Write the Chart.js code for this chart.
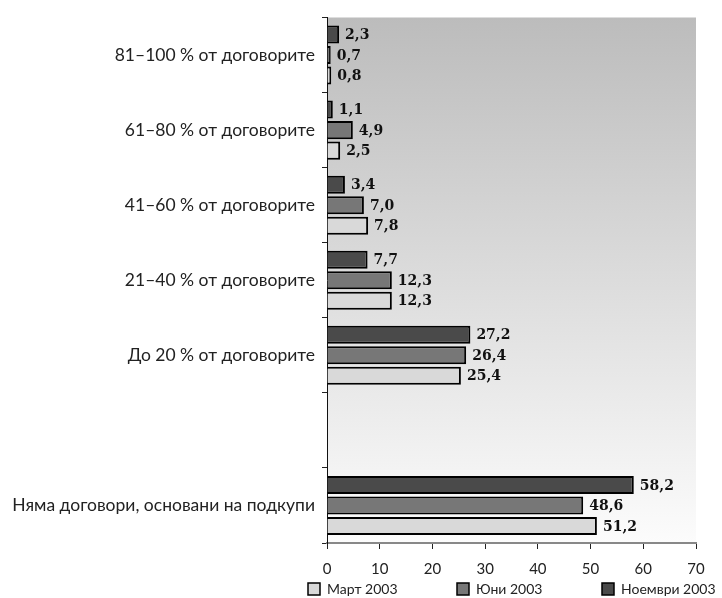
<!DOCTYPE html>
<html>
<head>
<meta charset="utf-8">
<script src="https://cdn.jsdelivr.net/npm/chart.js@4"></script>
<style>
  html, body { margin: 0; padding: 0; background: #fff; }
  #wrap { width: 722px; height: 598px; }
</style>
</head>
<body>
<div id="wrap"><canvas id="myChart"></canvas></div>
<script>
const categories = [
  '81–100 % от договорите',
  '61–80 % от договорите',
  '41–60 % от договорите',
  '21–40 % от договорите',
  'До 20 % от договорите',
  '',
  'Няма договори, основани на подкупи'
];
const mart2003 = [0.8, 2.5, 7.8, 12.3, 25.4, null, 51.2];
const yuni2003 = [0.7, 4.9, 7.0, 12.3, 26.4, null, 48.6];
const noemvri2003 = [2.3, 1.1, 3.4, 7.7, 27.2, null, 58.2];
const xTicks = [0, 10, 20, 30, 40, 50, 60, 70];

// gradient behind the plot area
const bgPlugin = {
  id: 'bg',
  beforeDraw(chart) {
    const { ctx, chartArea: a } = chart;
    const g = ctx.createLinearGradient(0, a.top, 0, a.bottom);
    g.addColorStop(0, '#bcbcbc');
    g.addColorStop(1, '#fcfcfc');
    ctx.save();
    ctx.fillStyle = g;
    ctx.fillRect(a.left, a.top, a.right - a.left, a.bottom - a.top);
    ctx.restore();
  }
};

// numbers at the end of the bars
const valuePlugin = {
  id: 'values',
  afterDatasetsDraw(chart) {
    const { ctx } = chart;
    ctx.save();
    ctx.font = 'bold 14px "DejaVu Serif"';
    ctx.fillStyle = '#111';
    ctx.textBaseline = 'middle';
    chart.data.datasets.forEach((ds, i) => {
      chart.getDatasetMeta(i).data.forEach((bar, j) => {
        const v = ds.data[j];
        if (v == null) return;
        ctx.fillText(v.toFixed(1).replace('.', ','), bar.x + 6, bar.y + 1);
      });
    });
    ctx.restore();
  }
};

// legend under the axis, Март first
const legendX = [308, 457, 602];
const legendPlugin = {
  id: 'legendBottom',
  afterDraw(chart) {
    const { ctx } = chart;
    const items = chart.data.datasets.slice().reverse();
    const y = 589;
    ctx.save();
    ctx.font = '14px Lato';
    ctx.textBaseline = 'middle';
    items.forEach((ds, i) => {
      const x = legendX[i];
      ctx.fillStyle = ds.backgroundColor;
      ctx.fillRect(x, y - 6, 12, 12);
      ctx.lineWidth = 1.5;
      ctx.strokeStyle = '#000';
      ctx.strokeRect(x, y - 6, 12, 12);
      ctx.fillStyle = '#222';
      ctx.fillText(ds.label, x + 19, y);
    });
    ctx.restore();
  }
};

new Chart(document.getElementById('myChart'), {
  type: 'bar',
  data: {
    labels: categories,
    datasets: [
      { label: 'Ноември 2003', data: noemvri2003, backgroundColor: '#4a4a4a' },
      { label: 'Юни 2003', data: yuni2003, backgroundColor: '#777777' },
      { label: 'Март 2003', data: mart2003, backgroundColor: '#d9d9d9' }
    ]
  },
  options: {
    indexAxis: 'y',
    responsive: true,
    maintainAspectRatio: false,
    animation: false,
    datasets: {
      bar: {
        borderColor: '#000',
        borderWidth: 2,
        barPercentage: 0.88,
        categoryPercentage: 0.82
      }
    },
    layout: { padding: { top: 16, right: 26, bottom: 0, left: 0 } },
    plugins: {
      legend: { display: false },
      tooltip: { enabled: false }
    },
    scales: {
      x: {
        min: 0,
        max: 70,
        afterBuildTicks: s => { s.ticks = xTicks.map(v => ({ value: v })); },
        afterFit: s => { s.height = 55; },
        grid: {
          drawOnChartArea: false,
          tickLength: 6,
          tickColor: '#222'
        },
        border: { color: '#888', width: 2 },
        ticks: { color: '#222', font: { family: 'Lato', size: 15 }, padding: 11 }
      },
      y: {
        afterFit: s => { s.width = 327; },
        grid: {
          drawOnChartArea: false,
          tickLength: 5,
          tickColor: '#222',
          offset: true
        },
        border: { color: '#111', width: 1 },
        ticks: { color: '#222', font: { family: 'Lato', size: 17.5 }, padding: 7 }
      }
    }
  },
  plugins: [bgPlugin, valuePlugin, legendPlugin]
});
</script>
</body>
</html>
